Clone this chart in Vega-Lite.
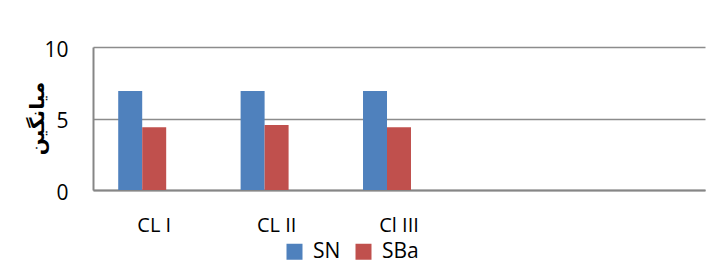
{
  "$schema": "https://vega.github.io/schema/vega-lite/v6.json",
  "width": 612,
  "height": 143,
  "autosize": "none",
  "padding": {"left": 93, "top": 47, "right": 18, "bottom": 72},
  "background": "white",
  "data": {
    "values": [
      {"cat": "CL I", "series": "SN", "value": 6.92},
      {"cat": "CL I", "series": "SBa", "value": 4.38},
      {"cat": "CL II", "series": "SN", "value": 6.92},
      {"cat": "CL II", "series": "SBa", "value": 4.55},
      {"cat": "Cl III", "series": "SN", "value": 6.92},
      {"cat": "Cl III", "series": "SBa", "value": 4.38}
    ]
  },
  "mark": {"type": "bar"},
  "encoding": {
    "x": {
      "field": "cat",
      "type": "nominal",
      "scale": {"domain": ["CL I", "CL II", "Cl III", "c4", "c5"], "paddingInner": 0.412, "paddingOuter": 0.206},
      "axis": {
        "title": null,
        "labelAngle": 0,
        "labelExpr": "indexof(['CL I','CL II','Cl III'], datum.value) >= 0 ? datum.value : ''",
        "labelFont": "Open Sans",
        "labelFontSize": 20,
        "labelColor": "black",
        "labelPadding": 25,
        "ticks": false,
        "domainColor": "#868686",
        "domainWidth": 2
      }
    },
    "xOffset": {"field": "series", "type": "nominal", "scale": {"domain": ["SN", "SBa", "S3"], "paddingInner": 0}},
    "y": {
      "field": "value",
      "type": "quantitative",
      "scale": {"domain": [0, 10], "nice": false},
      "axis": {
        "values": [0, 5, 10],
        "title": "میانگین",
        "titleFont": "DejaVu Sans",
        "titleFontWeight": "bold",
        "titleFontSize": 20,
        "titleColor": "black",
        "titleX": -56,
        "titleY": 71,
        "titleAngle": -90,
        "titleAlign": "center",
        "titleBaseline": "middle",
        "labelFont": "Open Sans",
        "labelFontSize": 21,
        "labelColor": "black",
        "labelPadding": 25,
        "labelOffset": 3,
        "ticks": false,
        "grid": true,
        "gridColor": "#8c8c8c",
        "gridWidth": 1.5,
        "domainColor": "#868686",
        "domainWidth": 2
      }
    },
    "color": {
      "field": "series",
      "type": "nominal",
      "scale": {"domain": ["SN", "SBa"], "range": ["#4F81BD", "#C0504D"]},
      "legend": {
        "title": null,
        "orient": "none",
        "direction": "horizontal",
        "legendX": 191,
        "legendY": 194,
        "symbolType": "square",
        "symbolSize": 256,
        "symbolStrokeWidth": 0,
        "labelFont": "Open Sans",
        "labelFontSize": 21,
        "labelColor": "black",
        "labelOffset": 8,
        "columnPadding": 12
      }
    }
  },
  "config": {"view": {"stroke": null}}
}
